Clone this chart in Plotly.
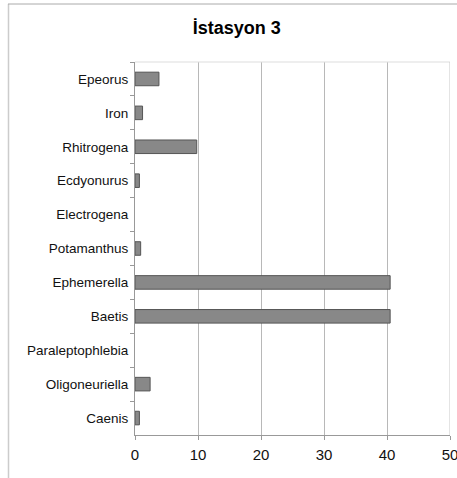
import plotly.graph_objects as go

# Taxa listed top to bottom as they appear on the chart
taxa = ["Epeorus", "Iron", "Rhitrogena", "Ecdyonurus", "Electrogena",
        "Potamanthus", "Ephemerella", "Baetis", "Paraleptophlebia",
        "Oligoneuriella", "Caenis"]
values = [3.8, 1.2, 9.8, 0.7, 0.0, 0.9, 40.5, 40.5, 0.0, 2.4, 0.7]

x_ticks = [0, 10, 20, 30, 40, 50]

W, H = 457, 478
L, R, T, B = 135, 7, 62, 43

# empty bars get no outline
outline_widths = [1 if v > 0 else 0 for v in values]

fig = go.Figure(go.Bar(
    x=values,
    y=taxa,
    orientation="h",
    marker=dict(color="#888888", line=dict(color="#555555", width=outline_widths)),
    width=0.4,
    hoverinfo="x+y",
))

fig.update_layout(
    width=W, height=H,
    margin=dict(l=L, r=R, t=T, b=B),
    paper_bgcolor="white",
    plot_bgcolor="white",
    showlegend=False,
    font=dict(family="Liberation Sans, Arial, sans-serif", color="#111111"),
    title=dict(
        text="<b>İstasyon 3</b>",
        x=0.518, xanchor="center",
        y=1 - 28 / H, yanchor="middle",
        font=dict(size=18, color="#000000"),
    ),
    xaxis=dict(
        range=[0, 50],
        tickvals=x_ticks,
        ticktext=[str(v) for v in x_ticks],
        showgrid=True, gridcolor="#b8b8b8", gridwidth=1,
        zeroline=False,
        showline=True, linecolor="#999999", linewidth=1,
        ticks="outside", ticklen=4, tickcolor="#999999",
        tickfont=dict(size=15, color="#111111"),
        ticklabelstandoff=2,
        ticklabeloverflow="allow",
        automargin=False,
        fixedrange=True,
    ),
    yaxis=dict(
        categoryorder="array",
        categoryarray=taxa,
        autorange="reversed",
        showgrid=False,
        zeroline=False,
        showline=True, linecolor="#999999", linewidth=1,
        ticks="outside", ticklen=4, tickcolor="#999999",
        tickson="boundaries",
        tickfont=dict(size=13.5, color="#111111"),
        ticklabelstandoff=3,
        automargin=False,
        fixedrange=True,
    ),
    shapes=[
        # top edge of the plotting area
        dict(type="line", xref="paper", yref="paper", x0=0, x1=1, y0=1, y1=1,
             line=dict(color="#dddddd", width=1)),
        # gridline at the right edge of the value axis
        dict(type="line", xref="x", yref="paper", x0=x_ticks[-1], x1=x_ticks[-1],
             y0=0, y1=1, line=dict(color="#c8c8c8", width=1)),
        # outer chart frame (left and top)
        dict(type="line", xref="paper", yref="paper",
             x0=(8.5 - L) / (W - L - R), x1=(8.5 - L) / (W - L - R),
             y0=(B - H) / (H - T - B), y1=1 + (T - 4) / (H - T - B),
             line=dict(color="#cccccc", width=1.5)),
        dict(type="line", xref="paper", yref="paper",
             x0=(8 - L) / (W - L - R), x1=1 + R / (W - L - R),
             y0=1 + (T - 4) / (H - T - B), y1=1 + (T - 4) / (H - T - B),
             line=dict(color="#aaaaaa", width=1)),
    ],
)

fig.write_html("out.html")
